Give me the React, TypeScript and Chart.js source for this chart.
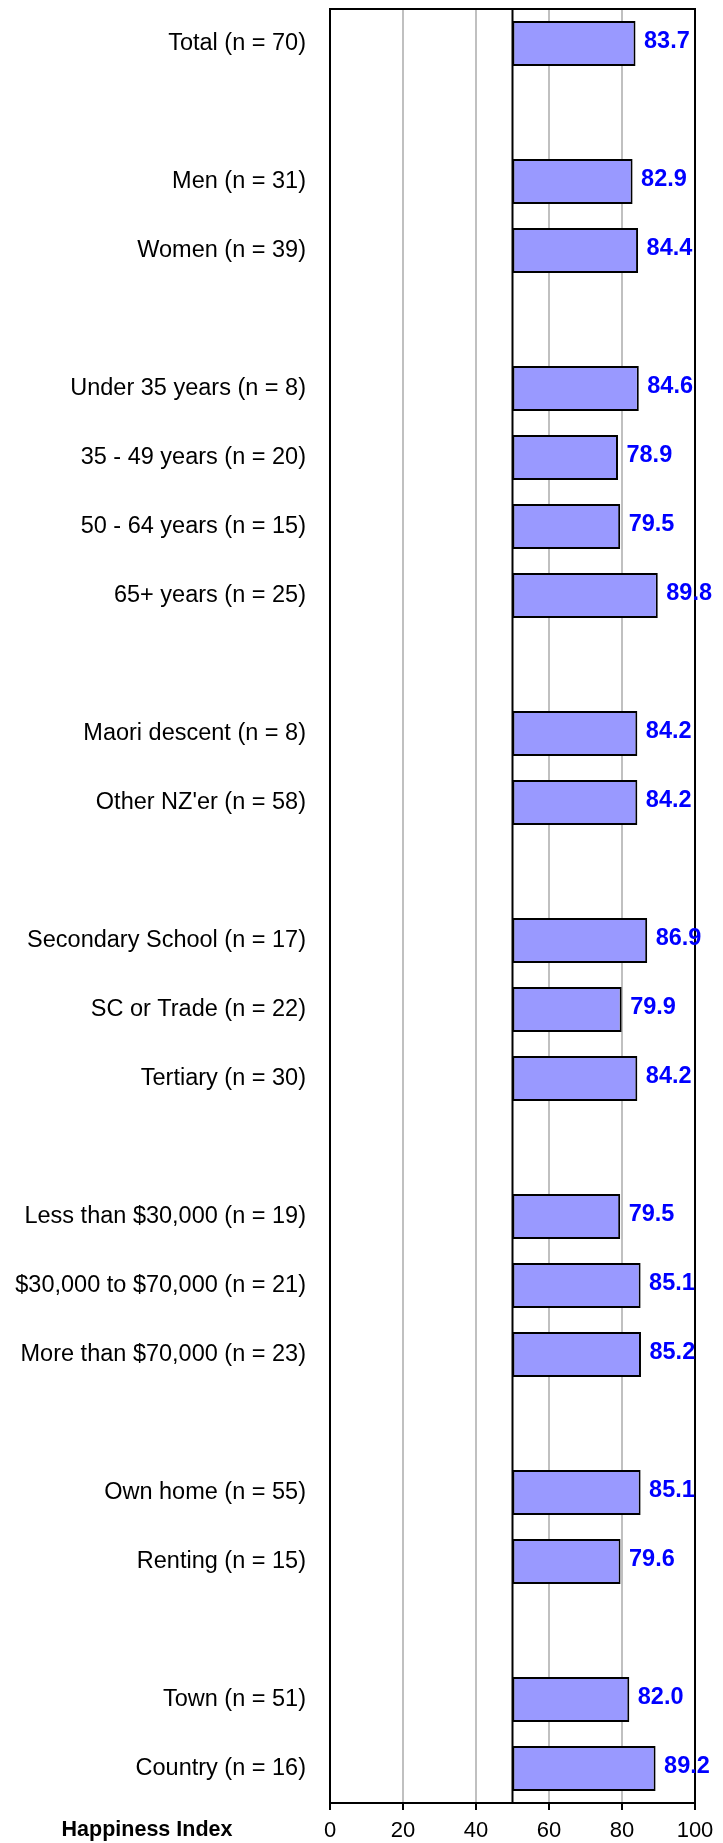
import React, { useEffect, useRef } from "react";
import { Chart, registerables } from "chart.js";

Chart.register(...registerables);

const categories: string[] = [
  "Total (n = 70)",
  "",
  "Men (n = 31)",
  "Women (n = 39)",
  "",
  "Under 35 years (n = 8)",
  "35 - 49 years (n = 20)",
  "50 - 64 years (n = 15)",
  "65+ years (n = 25)",
  "",
  "Maori descent (n = 8)",
  "Other NZ'er (n = 58)",
  "",
  "Secondary School (n = 17)",
  "SC or Trade (n = 22)",
  "Tertiary (n = 30)",
  "",
  "Less than $30,000 (n = 19)",
  "$30,000 to $70,000 (n = 21)",
  "More than $70,000 (n = 23)",
  "",
  "Own home (n = 55)",
  "Renting (n = 15)",
  "",
  "Town (n = 51)",
  "Country (n = 16)",
];

const happinessValues: (number | null)[] = [
  83.7, null, 82.9, 84.4, null, 84.6, 78.9, 79.5, 89.8, null, 84.2, 84.2, null,
  86.9, 79.9, 84.2, null, 79.5, 85.1, 85.2, null, 85.1, 79.6, null, 82.0, 89.2,
];

const baselineValue = 50;
const xMin = 0;
const xMax = 100;
const xStep = 20;
const axisTitle = "Happiness Index";

const FONT = "'Liberation Sans', Arial, sans-serif";

export default function App() {
  const canvasRef = useRef<HTMLCanvasElement | null>(null);

  useEffect(() => {
    const canvas = canvasRef.current;
    if (!canvas) return;

    const decorPlugin = {
      id: "decor",
      beforeDatasetsDraw(chart: any) {
        const { ctx, chartArea, scales } = chart;
        const x50 = scales.x.getPixelForValue(baselineValue);
        ctx.save();
        ctx.strokeStyle = "#000";
        ctx.lineWidth = 2;
        ctx.beginPath();
        ctx.moveTo(x50, chartArea.top);
        ctx.lineTo(x50, chartArea.bottom);
        ctx.stroke();
        ctx.restore();
      },
      afterDatasetsDraw(chart: any) {
        const { ctx, chartArea, scales } = chart;
        ctx.save();
        ctx.strokeStyle = "#000";
        ctx.lineWidth = 2;
        ctx.strokeRect(
          chartArea.left,
          chartArea.top,
          chartArea.right - chartArea.left,
          chartArea.bottom - chartArea.top
        );
        // value labels
        ctx.fillStyle = "#0000FF";
        ctx.font = `bold 23.5px ${FONT}`;
        ctx.textAlign = "left";
        ctx.textBaseline = "middle";
        happinessValues.forEach((v, i) => {
          if (v == null) return;
          const x = scales.x.getPixelForValue(v) + 8.5;
          const y = scales.y.getPixelForValue(i) - 1.5;
          ctx.fillText(v.toFixed(1), x, y);
        });
        // axis title
        ctx.fillStyle = "#000";
        ctx.font = `bold 21.5px ${FONT}`;
        ctx.textAlign = "center";
        ctx.textBaseline = "alphabetic";
        ctx.fillText(axisTitle, 147, 1836);
        ctx.restore();
      },
    };

    const chart = new Chart(canvas, {
      type: "bar",
      data: {
        labels: categories,
        datasets: [
          {
            data: happinessValues.map((v) =>
              v == null ? null : [baselineValue, v]
            ) as any,
            backgroundColor: "#9999FF",
            borderColor: "#000",
            borderWidth: 2,
            borderSkipped: false,
            barPercentage: 0.655,
            categoryPercentage: 1,
          },
        ],
      },
      options: {
        indexAxis: "y",
        responsive: false,
        animation: false,
        layout: { padding: { top: 9, right: 28, left: 0, bottom: 0 } },
        plugins: {
          legend: { display: false },
          tooltip: { enabled: false },
        },
        scales: {
          x: {
            type: "linear",
            min: xMin,
            max: xMax,
            ticks: {
              stepSize: xStep,
              color: "#000",
              font: { family: FONT, size: 22 },
              padding: 8,
            },
            grid: {
              color: (c: any) =>
                c.tick && (c.tick.value === xMin || c.tick.value === xMax)
                  ? "#000"
                  : "#c0c0c0",
              lineWidth: 2,
              tickColor: "#000",
              tickLength: 7,
              tickWidth: 2,
            },
            border: { color: "#000", width: 2 },
            afterFit: (s: any) => {
              s.height = 40;
              s.paddingLeft = 0;
              s.paddingRight = 0;
            },
          },
          y: {
            type: "category",
            grid: { display: false, drawTicks: false },
            border: { display: false },
            ticks: {
              color: "#000",
              font: { family: FONT, size: 23.5 },
              padding: 24,
              autoSkip: false,
            },
            afterFit: (s: any) => {
              s.width = 330;
              s.paddingTop = 0;
              s.paddingBottom = 0;
            },
          },
        },
      },
      plugins: [decorPlugin],
    });

    return () => chart.destroy();
  }, []);

  return (
    <div
      style={{
        position: "absolute",
        left: 0,
        top: 0,
        width: 723,
        height: 1843,
        background: "#fff",
      }}
    >
      <canvas ref={canvasRef} width={723} height={1843} />
    </div>
  );
}
